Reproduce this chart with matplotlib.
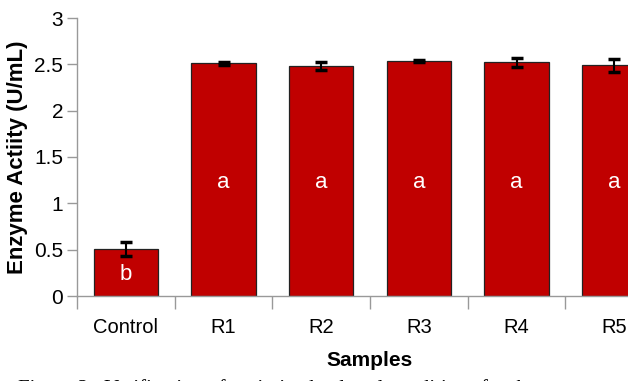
import matplotlib
matplotlib.use("Agg")
import matplotlib.pyplot as plt
import numpy as np

samples = ["Control", "R1", "R2", "R3", "R4", "R5"]
activity = [0.51, 2.51, 2.48, 2.535, 2.52, 2.49]
errors = [0.075, 0.015, 0.04, 0.01, 0.05, 0.07]
letters = ["b", "a", "a", "a", "a", "a"]
letter_y = [0.23, 1.22, 1.22, 1.22, 1.22, 1.22]

font = "Liberation Sans"

fig = plt.figure(figsize=(6.28, 3.81), dpi=100)
ax = fig.add_axes([77 / 628, 85 / 381, 586 / 628, 278 / 381])

x = np.arange(len(samples))
ax.bar(x, activity, width=0.66, color="#C00000", edgecolor="#222222", linewidth=0.9,
       yerr=errors, error_kw=dict(ecolor="black", elinewidth=1.5, capsize=4, capthick=2.5))

# significance letters inside the bars
for xi, lab, ly in zip(x, letters, letter_y):
    ax.text(xi, ly, lab, color="white", ha="center", va="center",
            fontsize=16, family=font)

ax.set_xlim(-0.5, 5.5)
ax.set_ylim(0, 3)
ax.set_yticks([0, 0.5, 1, 1.5, 2, 2.5, 3])
ax.set_yticklabels(["0", "0.5", "1", "1.5", "2", "2.5", "3"], family=font, fontsize=15)

ax.set_xticks(np.arange(-0.5, 6, 1))
ax.set_xticklabels([])
ax.set_xticks(x, minor=True)
ax.set_xticklabels(samples, minor=True, family=font, fontsize=14.5)
ax.tick_params(axis="x", which="major", length=9, color="#999999", width=1)
ax.tick_params(axis="x", which="minor", length=0, pad=16)
ax.tick_params(axis="y", length=7, color="#999999", width=1, pad=3)

for s in ["top", "right"]:
    ax.spines[s].set_visible(False)
for s in ["left", "bottom"]:
    ax.spines[s].set_color("#999999")
    ax.spines[s].set_linewidth(1)

ax.set_ylabel("Enzyme Actiity (U/mL)", fontsize=16, fontweight="bold",
              family=font, labelpad=4)
ax.set_xlabel("Samples", fontsize=15, fontweight="bold", family=font, labelpad=10)

fig.text(18 / 628, -0.035, "Figure 2:  Verification of optimized cultural conditions for the enzyme production in",
         family="Liberation Serif", fontsize=15, va="baseline", ha="left")

fig.savefig("out.png", dpi=100)
